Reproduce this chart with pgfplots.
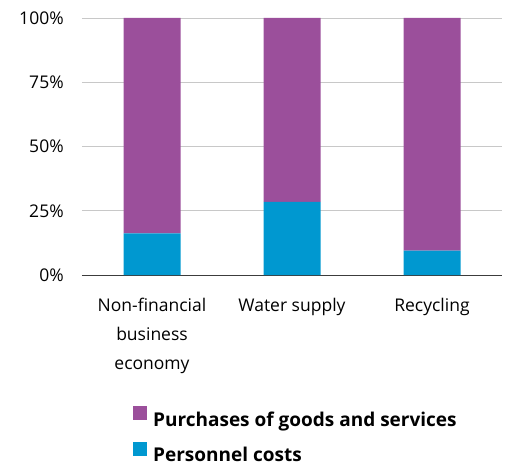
\documentclass[border=0pt]{standalone}
\usepackage{fontspec}
\setmainfont{Open Sans}
\usepackage{pgfplots}
\pgfplotsset{compat=1.18}
\definecolor{cpurple}{RGB}{155,79,155}
\definecolor{cblue}{RGB}{0,152,208}
\definecolor{cgrid}{RGB}{200,200,200}
\definecolor{caxis}{RGB}{60,60,60}
\begin{document}
\begin{tikzpicture}
\begin{axis}[
  scale only axis,
  width=420pt, height=257pt,
  ybar stacked, bar width=57pt,
  xmin=-0.5, xmax=2.5, ymin=0, ymax=100,
  axis lines=left,
  axis line style={-, draw=caxis, line width=0.8pt},
  y axis line style={draw=none},
  xtick={0,1,2},
  xticklabels={{Non-financial\\business\\economy},{Water supply},{Recycling}},
  x tick label style={align=center, font=\fontsize{17.5}{29}\selectfont, inner sep=0pt, yshift=-21pt, anchor=north},
  major x tick style={draw=none},
  extra x ticks={-0.5,0.5,1.5,2.5},
  extra x tick labels={},
  extra x tick style={major tick length=6pt, tick align=outside, tick style={draw=caxis, line width=0.8pt}, grid=none},
  ytick={0,25,50,75,100},
  yticklabels={0\%,25\%,50\%,75\%,100\%},
  y tick label style={font=\fontsize{17.5}{22}\selectfont, inner sep=0pt, xshift=-16pt},
  major y tick style={draw=none},
  ymajorgrids, grid style={cgrid, line width=0.8pt},
  reverse legend,
  legend style={at={(rel axis cs:0.1214,-0.51)}, anchor=north west, draw=none, fill=none,
    inner sep=0pt, font=\bfseries\fontsize{19}{22}\selectfont, row sep=15pt,
    nodes={inner sep=0pt, text depth=0pt}},
  legend cell align=left,
  legend image code/.code={\fill[#1] (0pt,-1pt) rectangle (14pt,13pt); \path (20pt,0pt);},
]
\addplot[fill=cblue, draw=none] coordinates {(0,16.2) (1,28.5) (2,9.5)};
\addlegendentry{Personnel costs}
\addplot[fill=cpurple, draw=none] coordinates {(0,83.8) (1,71.5) (2,90.5)};
\addlegendentry{Purchases of goods and services}
\end{axis}
\useasboundingbox (-82pt,-190pt) rectangle (423pt,275pt);
\end{tikzpicture}
\end{document}
